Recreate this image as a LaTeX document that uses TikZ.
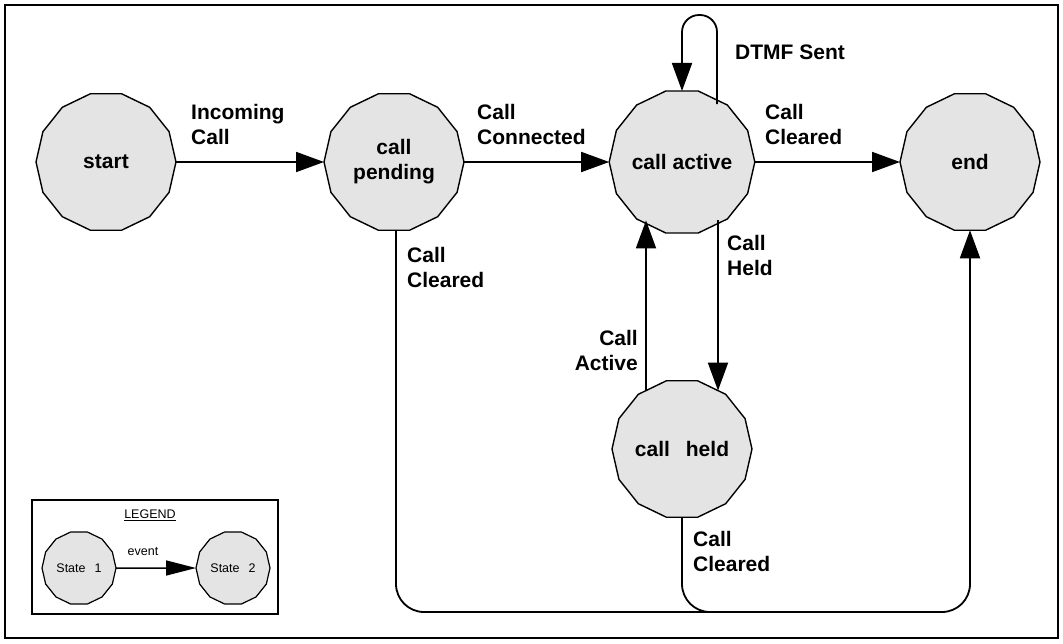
\documentclass[tikz,border=0pt]{standalone}
\usepackage{fontspec}
\setmainfont{Liberation Sans}
\usetikzlibrary{shapes.geometric,arrows.meta,calc}
\definecolor{nodegray}{RGB}{228,228,228}
\begin{document}
\begin{tikzpicture}[x=1pt,y=-1pt,
  state/.style={regular polygon, regular polygon sides=14, minimum size=140pt, inner sep=0pt, outer sep=0pt, draw, line width=1.4pt, fill=nodegray, font=\bfseries\fontsize{21}{25}\selectfont, align=center},
  smallstate/.style={state, minimum size=74pt, line width=1.2pt, font=\fontsize{12.5}{14}\selectfont},
  conn/.style={line width=1.8pt, -{Triangle[length=28pt,width=20pt]}},
  smallconn/.style={line width=1.5pt, -{Triangle[length=30pt,width=15pt]}},
  plainconn/.style={line width=1.8pt},
  lbl/.style={font=\bfseries\fontsize{21}{25}\selectfont, align=left, inner sep=0pt},
  small/.style={font=\fontsize{12.5}{14}\selectfont, inner sep=0pt},
  box/.style={draw, line width=1.6pt, inner sep=0pt},
]
\useasboundingbox (0,0) rectangle (1063,643);
\node[box, minimum width=1053pt, minimum height=633pt] (frame) at (531.5,321.5) {};

% states
\node[state] (start) at (106,162) {start};
\node[state] (pending) at (394,162) {call\\pending};
\node[state] (active) at (682,162) {call active};
\node[state] (end) at (970,162) {end};
\node[state] (held) at (682,449) {call\hspace{16pt}held};

% transitions
\draw[conn] (start) -- (pending);
\draw[conn] (pending) -- (active);
\draw[conn] (active) -- (end);
\draw[conn, rounded corners=17pt] ($(active.center)+(35,-58)$) -- ++(0,-89) -| (active.north);
\draw[conn] ($(active.center)+(36,58.4)$) -- ($(held.center)+(36,-58.4)$);
\draw[conn] ($(held.center)+(-36,-58.4)$) -- ($(active.center)+(-36,58.4)$);
\coordinate (route) at (970,612);
\draw[conn, rounded corners=28pt] ($(pending.south)+(2,0)$) |- (route) -- (end.south);
\draw[plainconn, rounded corners=28pt] (held.south) |- ($(route)+(-245,0)$);

% labels
\node[lbl, anchor=west] (lin) at (191,124.5) {Incoming\\Call};
\node[lbl, anchor=west] (lcon) at (477,124.5) {Call\\Connected};
\node[lbl, anchor=west] (lclr1) at (765,124.5) {Call\\Cleared};
\node[lbl, anchor=west] (ldtmf) at (735,52) {DTMF Sent};
\node[lbl, anchor=west] (lclr2) at (407,267.5) {Call\\Cleared};
\node[lbl, anchor=east, align=right] (lact) at (638,350) {Call\\Active};
\node[lbl, anchor=west] (lheld) at (727,255) {Call\\Held};
\node[lbl, anchor=west] (lclr3) at (693,551) {Call\\Cleared};

% legend
\node[box, minimum width=246pt, minimum height=114pt] (legend) at (155,557) {};
\node[small] (legendtitle) at (150,515) {\underline{LEGEND}};
\node[smallstate] (s1) at (79,568) {State\hspace{9pt}1};
\node[smallstate] (s2) at (233,568) {State\hspace{9pt}2};
\draw[smallconn] (s1) -- (s2);
\node[small] (levent) at (143,552) {event};
\end{tikzpicture}
\end{document}
